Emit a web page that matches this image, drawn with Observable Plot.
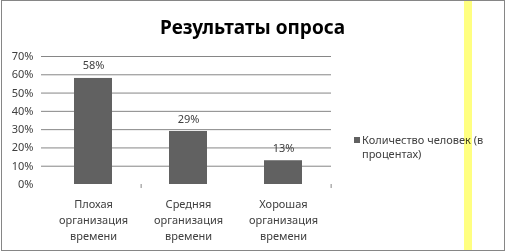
<!DOCTYPE html>
<html>
<head>
<meta charset="utf-8">
<script src="https://cdn.jsdelivr.net/npm/d3@7"></script>
<script src="https://cdn.jsdelivr.net/npm/@observablehq/plot@0.6"></script>
<style>
  html, body { margin: 0; padding: 0; background: #fff; }
  #wrap { position: relative; width: 505px; height: 251px; overflow: hidden; font-family: "Noto Sans", sans-serif; background: #fff; }
  #wrap svg { position: absolute; left: 0; top: 0; }
  #border { position: absolute; left: 1px; top: 0px; width: 502px; height: 249px; border: 1px solid #868686; box-sizing: content-box; }
  #band { position: absolute; left: 464px; top: 0; width: 8px; height: 251px; background: #ffff80; mix-blend-mode: multiply; }
  #title { position: absolute; left: 0; width: 505px; text-align: center; top: 13px; font-size: 19px; font-weight: bold; color: #000; line-height: 28px; }
  #legend { position: absolute; left: 354px; top: 132px; font-size: 11px; color: #404040; line-height: 14px; }
  #legend .sw { position: absolute; left: 0; top: 5px; width: 6px; height: 6px; background: #616161; }
  #legend .tx { position: absolute; left: 8px; top: 1px; white-space: nowrap; }
</style>
</head>
<body>
<div id="wrap">
  <div id="title"></div>
  <div id="legend"><div class="sw"></div><div class="tx"></div></div>
</div>
<script>
const title = "Результаты опроса";
const seriesName = "Количество человек (в\nпроцентах)";
const categories = ["Плохая\nорганизация\nвремени", "Средняя\nорганизация\nвремени", "Хорошая\nорганизация\nвремени"];
const values = [0.58, 0.29, 0.13];
const yTicks = [0, 0.1, 0.2, 0.3, 0.4, 0.5, 0.6, 0.7];
const boundaryTicks = [categories[0], categories[2]];

const data = categories.map((c, i) => ({cat: c, value: values[i]}));

document.getElementById("title").textContent = title;
document.querySelector("#legend .tx").innerHTML = seriesName.split("\n").join("<br>");

const pct = d3.format(".0%");

const chart = Plot.plot({
  width: 505,
  height: 251,
  marginLeft: 41,
  marginRight: 174,
  marginTop: 56,
  marginBottom: 67,
  style: {fontFamily: "Noto Sans, sans-serif", fontSize: "11px", color: "#404040", background: "transparent"},
  x: {domain: categories, range: [45.4, 331], paddingInner: 0.6, paddingOuter: 0.3, axis: null},
  y: {domain: [0, 0.7], ticks: yTicks, tickFormat: pct, label: null},
  marks: [
    Plot.gridY(yTicks.slice(1), {stroke: "#868686", strokeOpacity: 1, strokeWidth: 1}),
    Plot.axisY(yTicks, {tickFormat: pct, tickSize: 0, tickPadding: 8, fill: "#404040", fontSize: 11, label: null}),
    Plot.barY(data, {x: "cat", y: "value", fill: "#616161"}),
    Plot.ruleY([0], {stroke: "#868686", x1: null}),
    Plot.ruleX(boundaryTicks, {x: d => d, dx: 95.25 / 2, y1: 0, y2: -0.022, stroke: "#868686"}),
    Plot.text(data, {x: "cat", y: "value", text: d => pct(d.value), dy: -12.5, fill: "#404040", fontSize: 11}),
    Plot.text(data, {x: "cat", y: 0, text: "cat", dy: 12, lineAnchor: "top", lineHeight: 1.45, fill: "#404040", fontSize: 11})
  ]
});

const wrap = document.getElementById("wrap");
wrap.insertBefore(chart, wrap.firstChild);
const band = document.createElement("div"); band.id = "band"; wrap.appendChild(band);
const border = document.createElement("div"); border.id = "border"; wrap.appendChild(border);
</script>
</body>
</html>
